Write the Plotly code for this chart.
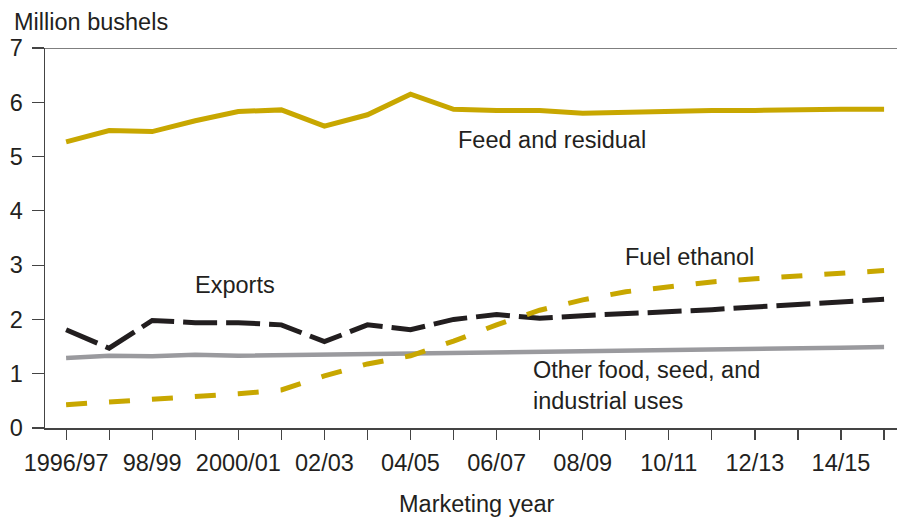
import plotly.graph_objects as go

years = ["1996/97", "1997/98", "1998/99", "1999/00", "2000/01", "2001/02", "2002/03",
         "2003/04", "2004/05", "2005/06", "2006/07", "2007/08", "2008/09", "2009/10",
         "2010/11", "2011/12", "2012/13", "2013/14", "2014/15", "2015/16"]
tick_labels = ["1996/97", "", "98/99", "", "2000/01", "", "02/03", "", "04/05", "",
               "06/07", "", "08/09", "", "10/11", "", "12/13", "", "14/15", ""]

feed_residual = [5.27, 5.48, 5.46, 5.66, 5.83, 5.86, 5.56, 5.77, 6.15, 5.87,
                 5.85, 5.85, 5.80, 5.82, 5.85, 5.85, 5.85, 5.87, 5.87, 5.87]
exports = [1.81, 1.47, 1.98, 1.94, 1.94, 1.90, 1.59, 1.90, 1.81, 2.00,
           2.09, 2.02, 2.07, 2.10, 2.13, 2.18, 2.23, 2.28, 2.32, 2.37]
fuel_ethanol = [0.43, 0.48, 0.52, 0.57, 0.63, 0.70, 0.96, 1.18, 1.33, 1.60,
                1.90, 2.17, 2.36, 2.51, 2.61, 2.69, 2.75, 2.80, 2.85, 2.90]
other_fsi = [1.29, 1.33, 1.32, 1.35, 1.33, 1.34, 1.34, 1.37, 1.37, 1.39,
             1.40, 1.41, 1.42, 1.43, 1.44, 1.45, 1.46, 1.47, 1.48, 1.49]

x = list(range(len(years)))
GOLD = "#C8A700"
GRAY = "#9A9A9E"
BLACK = "#221E1F"
TXT = "#231F20"
FONT = "Liberation Sans, Arial, sans-serif"
FS = 23.5

# plot area in pixels: left 45, right 897, top 48, bottom 428
L, R, T, B = 45, 897, 48, 428
def px(xp):
    return (xp - L) / (R - L)
def py(yp):
    return (B - yp) / (B - T)

fig = go.Figure()
fig.add_trace(go.Scatter(x=x, y=other_fsi, mode="lines", name="Other food, seed, and industrial uses",
                         line=dict(color=GRAY, width=4.5), hoverinfo="skip"))
fig.add_trace(go.Scatter(x=x, y=exports, mode="lines", name="Exports",
                         line=dict(color=BLACK, width=5, dash="34px,9px"), hoverinfo="skip"))
fig.add_trace(go.Scatter(x=x, y=fuel_ethanol, mode="lines", name="Fuel ethanol",
                         line=dict(color=GOLD, width=5, dash="21px,22px"), hoverinfo="skip"))
fig.add_trace(go.Scatter(x=x, y=feed_residual, mode="lines", name="Feed and residual",
                         line=dict(color=GOLD, width=5), hoverinfo="skip"))

ann_font = dict(family=FONT, size=FS, color=TXT)
annotations = [
    dict(x=px(456), y=py(140), text="Feed and residual", xanchor="left", yanchor="middle"),
    dict(x=px(193), y=py(285), text="Exports", xanchor="left", yanchor="middle"),
    dict(x=px(623), y=py(257), text="Fuel ethanol", xanchor="left", yanchor="middle"),
    dict(x=px(531), y=py(385), text="Other food, seed, and<br>industrial uses", xanchor="left",
         yanchor="middle", align="left"),
    dict(x=px(12), y=py(22), text="Million bushels", xanchor="left", yanchor="middle"),
    dict(x=px(477), y=py(504), text="Marketing year", xanchor="center", yanchor="middle"),
]
for a in annotations:
    a.update(xref="paper", yref="paper", showarrow=False, font=ann_font)

fig.update_layout(
    width=898, height=517,
    margin=dict(l=L, r=898 - R, t=T, b=517 - B),
    paper_bgcolor="white", plot_bgcolor="white",
    showlegend=False,
    font=dict(family=FONT, size=FS, color=TXT),
    annotations=annotations,
    xaxis=dict(
        range=[-0.49, 19.3], tickvals=x, ticktext=tick_labels,
        showgrid=False, zeroline=False, showline=True, linecolor="#444", linewidth=1.5,
        ticks="outside", ticklen=10, tickwidth=1.2, tickcolor="#444",
        ticklabelstandoff=3, automargin=False,
        tickfont=dict(family=FONT, size=FS, color=TXT),
    ),
    yaxis=dict(
        range=[0, 7], tickvals=[0, 1, 2, 3, 4, 5, 6, 7],
        showgrid=False, zeroline=False, showline=True, linecolor="#444", linewidth=1.5,
        ticks="outside", ticklen=12, tickwidth=1.2, tickcolor="#444",
        ticklabelstandoff=4, automargin=False,
        tickfont=dict(family=FONT, size=FS, color=TXT),
    ),
    shapes=[dict(type="line", xref="paper", yref="y", x0=0, x1=1, y0=7, y1=7,
                 line=dict(color="#555", width=1.5))],
)

fig.write_html("out.html", config={"displayModeBar": False, "staticPlot": True},
               post_script="document.body.style.margin='0';document.body.style.overflow='hidden';")
